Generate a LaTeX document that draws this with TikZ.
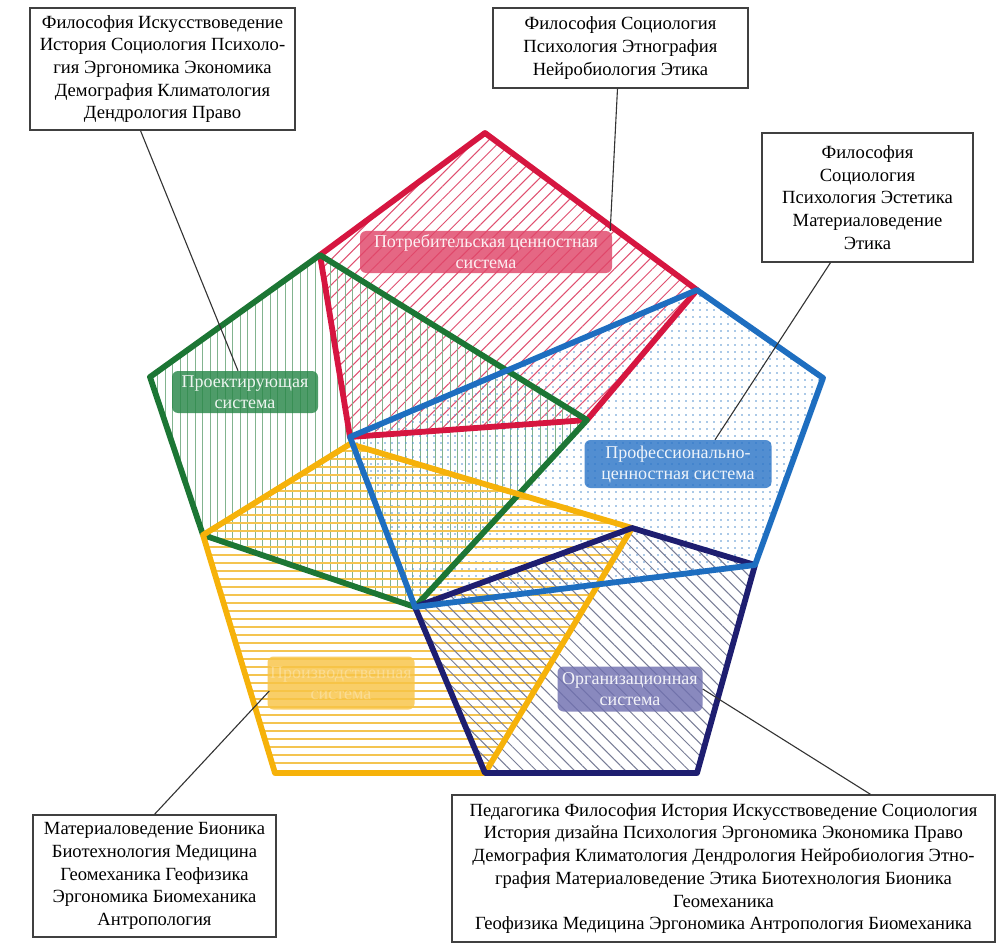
\documentclass[tikz,border=0pt]{standalone}
\usepackage{fontspec}
\setmainfont{Liberation Serif}
\usetikzlibrary{patterns.meta,calc}
\definecolor{cRed}{RGB}{214,22,64}
\definecolor{cGreen}{RGB}{28,118,52}
\definecolor{cBlue}{RGB}{30,110,192}
\definecolor{cYellow}{RGB}{246,178,10}
\definecolor{cNavy}{RGB}{30,30,112}
\definecolor{tRed}{RGB}{224,70,105}
\definecolor{tGreen}{RGB}{40,135,72}
\definecolor{tBlue}{RGB}{45,118,200}
\definecolor{tYellow}{RGB}{248,196,70}
\definecolor{tNavy}{RGB}{112,112,176}
\definecolor{hNavy}{RGB}{120,125,150}
\definecolor{hYellow}{RGB}{244,196,80}
\begin{document}
\begin{tikzpicture}[x=1pt,y=-1pt,
  edge/.style={line width=5.8pt,line join=round},
  callout/.style={draw=black!75,line width=1.3pt,fill=white,align=center,
    font=\fontsize{18.6}{22.7}\selectfont,inner sep=0pt},
  leader/.style={draw=black!80,line width=1.1pt},
  tag/.style={rounded corners=6pt,align=center,text=white,
    font=\fontsize{18}{21}\selectfont,inner sep=0pt,fill opacity=0.82,text opacity=0.9}]
\useasboundingbox (0,0) rectangle (997,947);
\fill[white] (0,0) rectangle (997,947);

% vertices of the five pentagons
\coordinate (pA) at (485,133);
\coordinate (pB) at (697,290);
\coordinate (pC) at (587,420);
\coordinate (pD) at (350,437);
\coordinate (pE) at (320,255);
\coordinate (pF) at (150,377);
\coordinate (pG) at (203,535);
\coordinate (pH) at (415,607);
\coordinate (pI) at (823,378);
\coordinate (pJ) at (755,565);
\coordinate (pK) at (350,444);
\coordinate (pL) at (632,528);
\coordinate (pM) at (485,773);
\coordinate (pN) at (275,773);
\coordinate (pO) at (697,773);

% hatched interiors
\fill[pattern={Lines[angle=45,distance=9pt,line width=1pt]},pattern color=cRed!75]
  (pA)--(pB)--(pC)--(pD)--(pE)--cycle;
\fill[pattern={Lines[angle=90,distance=7.5pt,line width=0.9pt]},pattern color=cGreen!55]
  (pE)--(pC)--(pH)--(pG)--(pF)--cycle;
\fill[pattern={Dots[distance=7pt,radius=0.85pt]},pattern color=cBlue!75]
  (pB)--(pI)--(pJ)--(pH)--(pD)--cycle;
\fill[pattern={Lines[angle=0,distance=8pt,line width=1.1pt]},pattern color=hYellow]
  (pK)--(pL)--(pM)--(pN)--(pG)--cycle;
\fill[pattern={Lines[angle=-45,distance=9pt,line width=1pt]},pattern color=hNavy]
  (pL)--(pJ)--(pO)--(pM)--(pH)--cycle;

% outlines
\draw[edge,cRed] (pA)--(pB)--(pC)--(pD)--(pE)--cycle;
\draw[edge,cGreen] (pE)--(pC)--(pH)--(pG)--(pF)--cycle;
\draw[edge,cYellow] (pK)--(pL)--(pM)--(pN)--(pG)--cycle;
\draw[edge,cNavy] (pL)--(pJ)--(pO)--(pM)--(pH)--cycle;
\draw[edge,cBlue] (pB)--(pI)--(pJ)--(pH)--(pD)--cycle;

% system labels
\node[tag,fill=tRed,minimum width=252pt,minimum height=42pt] (rlab) at (486,252)
  {Потребительская ценностная\\система};
\node[tag,fill=tGreen,minimum width=146pt,minimum height=42pt] (glab) at (245,392)
  {Проектирующая\\система};
\node[tag,fill=tBlue,minimum width=187pt,minimum height=48pt] (blab) at (678,464)
  {Профессионально-\\ценностная система};
\node[tag,fill=tYellow,minimum width=147pt,minimum height=53pt,text opacity=0.3] (ylab) at (341,683)
  {Производственная\\система};
\node[tag,fill=tNavy,minimum width=145pt,minimum height=45pt] (nlab) at (630,689)
  {Организационная\\система};

% discipline boxes
\node[callout,minimum width=265pt,minimum height=122pt] (tl) at (162.5,69)
  {Философия Искусствоведение\\История Социология Психоло-\\гия Эргономика Экономика\\Демография Климатология\\Дендрология Право};
\node[callout,minimum width=255pt,minimum height=80pt] (tm) at (620.5,48)
  {Философия Социология\\Психология Этнография\\Нейробиология Этика};
\node[callout,minimum width=211pt,minimum height=129pt] (rb) at (867.5,197.5)
  {Философия\\Социология\\Психология Эстетика\\Материаловедение\\Этика};
\node[callout,minimum width=243pt,minimum height=122pt] (bl) at (154.5,876)
  {Материаловедение Бионика\\Биотехнология Медицина\\Геомеханика Геофизика\\Эргономика Биомеханика\\Антропология};
\node[callout,minimum width=543pt,minimum height=147pt] (br) at (723.5,868.5)
  {Педагогика Философия История Искусствоведение Социология\\История дизайна Психология Эргономика Экономика Право\\Демография Климатология Дендрология Нейробиология Этно-\\графия Материаловедение Этика Биотехнология Бионика\\Геомеханика\\Геофизика Медицина Эргономика Антропология Биомеханика};

% leaders from boxes to labels
\draw[leader] ([xshift=-22pt]tl.south) -- ([xshift=-7pt]glab.north);
\draw[leader] ([xshift=-3pt]tm.south) -- ([xshift=-2pt]rlab.north east);
\draw[leader] ([xshift=-37pt]rb.south) -- ([xshift=37pt]blab.north);
\draw[leader] (bl.north) -- ($(ylab.west)+(2,8)$);
\draw[leader] ([xshift=147pt]br.north) -- (nlab.east);
\end{tikzpicture}
\end{document}
